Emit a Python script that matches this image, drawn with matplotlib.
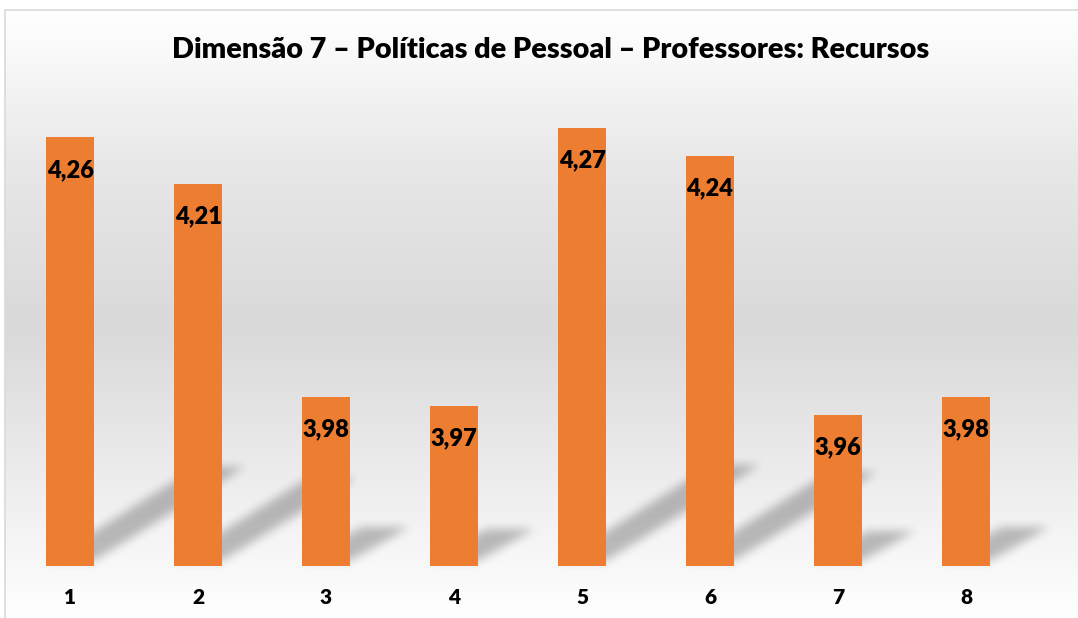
"""Bar chart: Dimensão 7 – Políticas de Pessoal – Professores: Recursos."""

import matplotlib
matplotlib.use("Agg")
import matplotlib.pyplot as plt
import numpy as np
from matplotlib.colors import LinearSegmentedColormap
from matplotlib.path import Path
from matplotlib.patches import Rectangle

categories = ["1", "2", "3", "4", "5", "6", "7", "8"]
scores = [4.26, 4.21, 3.98, 3.97, 4.27, 4.24, 3.96, 3.98]
title = "Dimensão 7 – Políticas de Pessoal – Professores: Recursos"

BAR_COLOR = "#ED7D31"
W, H = 1078, 618
Y_MIN = 3.797

plt.rcParams["font.family"] = ["Lato", "DejaVu Sans"]

fig = plt.figure(figsize=(W / 100, H / 100), dpi=100)

# background axes in pixel units (origin bottom-left)
bg = fig.add_axes([0, 0, 1, 1])
bg.set_xlim(0, W)
bg.set_ylim(0, H)
bg.set_axis_off()

grad = LinearSegmentedColormap.from_list(
    "bg",
    [(0.0, "#ffffff"), (0.15, "#f3f3f3"), (0.48, "#d9d9d9"),
     (0.75, "#e8e8e8"), (0.95, "#fbfbfb"), (1.0, "#ffffff")],
)
top_px = H - 10
gradient = np.linspace(1, 0, 256).reshape(-1, 1)
bg.imshow(grad(1 - gradient), extent=(5, W, 0, top_px), origin="lower",
          aspect="auto", interpolation="bilinear", zorder=0)
bg.add_patch(Rectangle((5, -5), W, top_px + 5, fill=False,
                       edgecolor="#d9d9d9", linewidth=1.2, zorder=3))

# main plot area
ax = fig.add_axes([6 / W, (H - 566) / H, 1024 / W, 463 / H])
ax.set_facecolor("none")
x = np.arange(len(categories))
width = 0.37
ax.bar(x, scores, width=width, color=BAR_COLOR, zorder=2)
ax.set_xlim(-0.5, len(categories) - 0.5)
ax.set_ylim(Y_MIN, Y_MIN + 0.5)

for xi, v in zip(x, scores):
    ax.annotate(f"{v:.2f}".replace(".", ","), (xi, v), xytext=(0, -23.5),
                textcoords="offset points", ha="center", va="center",
                fontsize=17, fontweight="heavy", color="black")

ax.set_xticks(x, categories, fontsize=15, fontweight="heavy")
ax.tick_params(axis="x", length=0, pad=16)
ax.set_yticks([])
for spine in ax.spines.values():
    spine.set_visible(False)

# soft diagonal shadows behind bars, rasterised in pixel space
yy, xx = np.mgrid[0:H, 0:W]
pts = np.column_stack([xx.ravel() + 0.5, yy.ravel() + 0.5])
mask = np.zeros(H * W)
for xi, v in zip(x, scores):
    (x0, yb), (x1, yt) = ax.transData.transform([(xi - width / 2, Y_MIN),
                                                 (xi + width / 2, v)])
    h = yt - yb
    dx, dy = 0.35 * h, 0.23 * h
    poly = Path([(x0, yb + 5), (x1, yb + 5), (x1 + dx, yb + dy),
                 (x0 + dx, yb + dy), (x0, yb + 5)])
    mask = np.maximum(mask, poly.contains_points(pts).astype(float))
mask = mask.reshape(H, W)


def box_blur(a, r):
    k = np.ones(2 * r + 1) / (2 * r + 1)
    a = np.apply_along_axis(lambda m: np.convolve(m, k, mode="same"), 0, a)
    a = np.apply_along_axis(lambda m: np.convolve(m, k, mode="same"), 1, a)
    return a


for _ in range(3):
    mask = box_blur(mask, 4)

shadow = np.zeros((H, W, 4))
shadow[..., 3] = 0.25 * mask
bg.imshow(shadow, extent=(0, W, 0, H), origin="lower", aspect="auto",
          interpolation="nearest", zorder=1)

fig.text(551 / W, (H - 50) / H, title, ha="center", va="center",
         fontsize=20.8, fontweight="heavy", color="black")

fig.savefig("out.png", dpi=100)
